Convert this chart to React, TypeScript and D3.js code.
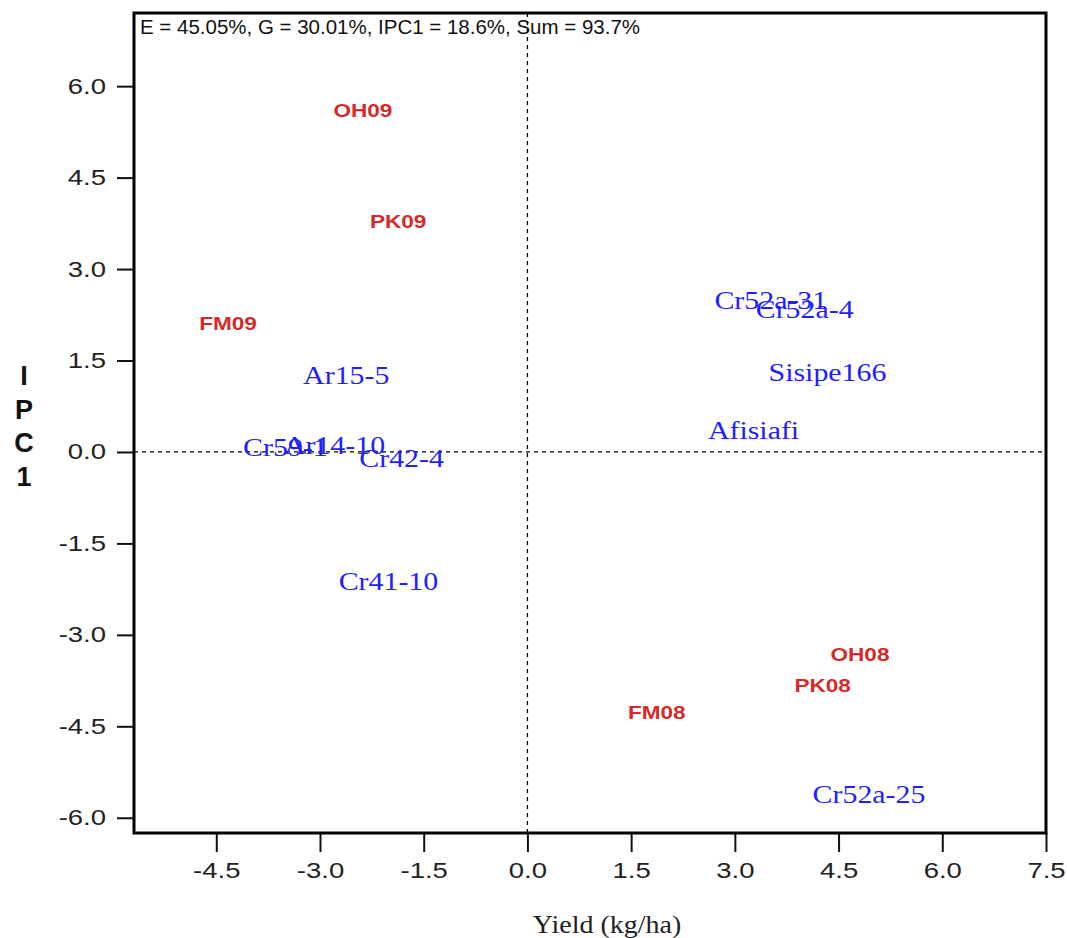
import { useRef, useEffect } from "react";
import * as d3 from "d3";

// Environments (red) and genotypes (blue)
const ENV_NAMES = ["OH09", "PK09", "FM09", "OH08", "PK08", "FM08"];
const ENV_YIELD = [-2.38, -1.87, -4.33, 4.81, 4.27, 1.87];
const ENV_IPC1 = [5.59, 3.77, 2.11, -3.33, -3.84, -4.28];

const GENO_NAMES = [
  "Cr52a-31", "Cr52a-4", "Sisipe166", "Afisiafi", "Ar15-5",
  "Cr59-1", "Ar14-10", "Cr42-4", "Cr41-10", "Cr52a-25",
];
const GENO_YIELD = [3.52, 4.01, 4.34, 3.27, -2.62, -3.5, -2.79, -1.82, -2.01, 4.94];
const GENO_IPC1 = [2.49, 2.34, 1.3, 0.36, 1.26, 0.07, 0.1, -0.11, -2.13, -5.62];

const X_TICKS = [-4.5, -3, -1.5, 0, 1.5, 3, 4.5, 6, 7.5];
const Y_TICKS = [-6, -4.5, -3, -1.5, 0, 1.5, 3, 4.5, 6];

const SUBTITLE = "E = 45.05%, G = 30.01%, IPC1 = 18.6%, Sum = 93.7%";
const X_TITLE = "Yield (kg/ha)";
const Y_TITLE = ["I", "P", "C", "1"];

const W = 1067;
const H = 938;
const box = { left: 134, right: 1046, top: 13, bottom: 833 };

const SANS = "'Liberation Sans', Arial, sans-serif";
const SERIF = "'Liberation Serif', 'Times New Roman', serif";

// plain hyphen for negatives, as in the original plot
const fmt = (v: number) => v.toFixed(1);

export default function App() {
  const svgRef = useRef<SVGSVGElement>(null);

  useEffect(() => {
    if (!svgRef.current) return;
    const svg = d3.select(svgRef.current);
    svg.selectAll("*").remove();

    const x = d3.scaleLinear().domain([-5.69, 7.5]).range([box.left, box.right]);
    const y = d3.scaleLinear().domain([-6.25, 7.2]).range([box.bottom, box.top]);

    // reference lines through the origin
    svg.append("line")
      .attr("x1", x(0)).attr("x2", x(0))
      .attr("y1", box.top).attr("y2", box.bottom)
      .attr("stroke", "#000").attr("stroke-width", 1.3)
      .attr("stroke-dasharray", "4,4");
    svg.append("line")
      .attr("x1", box.left).attr("x2", box.right)
      .attr("y1", y(0)).attr("y2", y(0))
      .attr("stroke", "#000").attr("stroke-width", 1.3)
      .attr("stroke-dasharray", "4,4");

    // axes
    svg.append("g")
      .attr("transform", `translate(0,${box.bottom})`)
      .call(d3.axisBottom(x).tickValues(X_TICKS).tickFormat((d) => fmt(d as number)).tickSize(19).tickSizeOuter(0).tickPadding(10))
      .call((a) => {
        a.select(".domain").remove();
        a.selectAll(".tick line").attr("stroke", "#111").attr("stroke-width", 2);
        a.selectAll(".tick text")
          .attr("fill", "#222")
          .attr("font-family", SANS)
          .attr("font-size", 22)
          .attr("transform", "scale(1.25,1)");
      });

    svg.append("g")
      .attr("transform", `translate(${box.left},0)`)
      .call(d3.axisLeft(y).tickValues(Y_TICKS).tickFormat((d) => fmt(d as number)).tickSize(17).tickSizeOuter(0))
      .call((a) => {
        a.select(".domain").remove();
        a.selectAll(".tick line").attr("stroke", "#111").attr("stroke-width", 2);
        a.selectAll(".tick text")
          .attr("fill", "#222")
          .attr("font-family", SANS)
          .attr("font-size", 22)
          .attr("x", -28 / 1.25)
          .attr("transform", "scale(1.25,1)");
      });

    // frame
    svg.append("rect")
      .attr("x", box.left).attr("y", box.top)
      .attr("width", box.right - box.left).attr("height", box.bottom - box.top)
      .attr("fill", "none").attr("stroke", "#000").attr("stroke-width", 3);

    svg.append("text")
      .attr("x", 140).attr("y", 34)
      .attr("font-family", SANS).attr("font-size", 20)
      .attr("textLength", 500).attr("lengthAdjust", "spacingAndGlyphs")
      .attr("fill", "#111")
      .text(SUBTITLE);

    // genotype labels
    const geno = GENO_NAMES.map((name, i) => ({ name, gx: GENO_YIELD[i], gy: GENO_IPC1[i] }));
    svg.append("g").selectAll("text")
      .data(geno)
      .join("text")
      .attr("transform", (d) => `translate(${x(d.gx)},${y(d.gy)}) scale(1.15,1)`)
      .attr("text-anchor", "middle")
      .attr("dy", "0.33em")
      .attr("font-family", SERIF)
      .attr("font-size", 26)
      .attr("fill", "#1e1eff")
      .text((d) => d.name);

    // environment labels
    const env = ENV_NAMES.map((name, i) => ({ name, ex: ENV_YIELD[i], ey: ENV_IPC1[i] }));
    svg.append("g").selectAll("text")
      .data(env)
      .join("text")
      .attr("transform", (d) => `translate(${x(d.ex)},${y(d.ey)}) scale(1.29,1)`)
      .attr("text-anchor", "middle")
      .attr("dy", "0.36em")
      .attr("font-family", SANS)
      .attr("font-weight", "bold")
      .attr("font-size", 17.5)
      .attr("fill", "#d42a2a")
      .text((d) => d.name);

    // axis titles
    svg.append("text")
      .attr("transform", `translate(${(box.left + box.right) / 2 + 17},933) scale(1.12,1)`)
      .attr("text-anchor", "middle")
      .attr("font-family", SERIF)
      .attr("font-size", 25)
      .attr("fill", "#222")
      .text(X_TITLE);

    svg.append("g").selectAll("text")
      .data(Y_TITLE)
      .join("text")
      .attr("x", 24)
      .attr("y", (_, i) => 385 + i * 33.5)
      .attr("text-anchor", "middle")
      .attr("font-family", SANS)
      .attr("font-weight", "bold")
      .attr("font-size", 27)
      .attr("fill", "#111")
      .text((d) => d);
  }, []);

  return (
    <svg
      ref={svgRef}
      width={W}
      height={H}
      style={{ position: "absolute", left: 0, top: 0, background: "#fff", display: "block" }}
    />
  );
}
